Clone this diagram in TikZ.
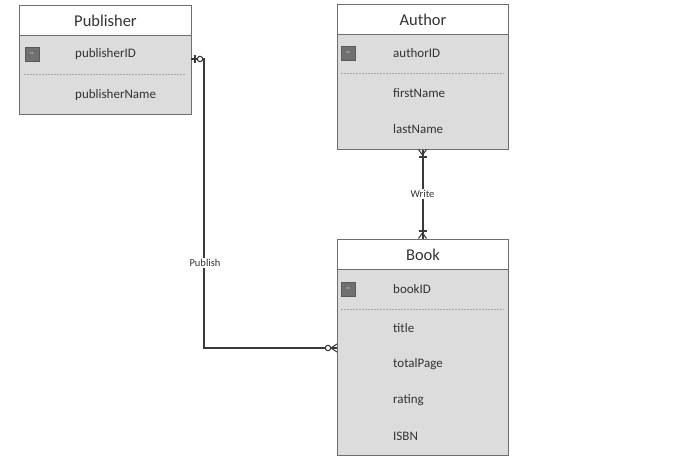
\documentclass[tikz,border=0pt]{standalone}
\usepackage{fontspec}
\setmainfont{Carlito}
\definecolor{bodyfill}{HTML}{DCDCDC}
\definecolor{edge}{HTML}{6E6E6E}
\definecolor{txt}{HTML}{333333}
\definecolor{pkfill}{HTML}{707070}
\definecolor{conn}{HTML}{3A3A3A}
\begin{document}
\begin{tikzpicture}[x=1pt,y=-1pt,
  entbody/.style={draw=edge,line width=1pt,fill=bodyfill,rectangle,anchor=north west,inner sep=0pt},
  enthead/.style={draw=edge,line width=1pt,fill=white,rectangle,anchor=north west,inner sep=0pt,minimum height=30pt,font=\fontsize{16.5}{18}\selectfont,text=txt},
  attr/.style={anchor=west,inner sep=0pt,font=\fontsize{13}{15}\selectfont,text=txt},
  pk/.style={draw=pkfill!80!black,fill=pkfill,rectangle,minimum size=14pt,inner sep=0pt,font=\fontsize{3}{3}\selectfont,text=white!80!gray},
  divider/.style={draw=gray!70,line width=0.7pt,dash pattern=on 2pt off 1pt},
  conline/.style={draw=conn,line width=1.1pt},
  rel/.style={fill=white,inner sep=1pt,font=\fontsize{10.5}{12}\selectfont,text=txt}
]
\useasboundingbox (0,0) rectangle (700,460);
\fill[white] (0,0) rectangle (700,460);

% Publisher
\node[entbody,minimum width=172pt,minimum height=109pt] (pub) at (19,5) {};
\node[enthead,minimum width=172pt] (pubh) at (19,5) {Publisher};
\node[pk] (pubpk) at (32,54) {PK};
\node[attr] (pubid) at (75,54) {publisherID};
\draw[divider] (24,74) -- (186,74);
\node[attr] (pubname) at (75,95) {publisherName};

% Author
\node[entbody,minimum width=171pt,minimum height=145pt] (auth) at (337,4) {};
\node[enthead,minimum width=171pt] (authh) at (337,4) {Author};
\node[pk] (authpk) at (348,53) {PK};
\node[attr] (authid) at (393,53) {authorID};
\draw[divider] (341,73) -- (504,73);
\node[attr] (fname) at (393,93) {firstName};
\node[attr] (lname) at (393,129) {lastName};

% Book
\node[entbody,minimum width=171pt,minimum height=216pt] (book) at (337,239) {};
\node[enthead,minimum width=171pt] (bookh) at (337,239) {Book};
\node[pk] (bookpk) at (348,289) {PK};
\node[attr] (bookid) at (393,289) {bookID};
\draw[divider] (341,309) -- (504,309);
\node[attr] (title) at (393,328) {title};
\node[attr] (tpage) at (393,364) {totalPage};
\node[attr] (rating) at (393,400) {rating};
\node[attr] (isbn) at (393,436) {ISBN};

% Publish connector
\coordinate (pubc) at (191,59);
\coordinate (bookc) at (337,348);
\coordinate (bend) at (204,59);
\draw[conline] (pubc) -- (bend) |- (bookc);
\node[rel] (publbl) at (205,263) {Publish};
% one-and-only-zero at publisher end
\draw[conline] (195,55) -- (195,63);
\draw[conline,fill=white] (200,59) circle (2.7pt);
% zero-or-many at book end
\draw[conline,fill=white] (328,348) circle (2.7pt);
\draw[conline] (331,348) -- (337,344);
\draw[conline] (331,348) -- (337,352);

% Write connector
\draw[conline] (auth.south) -- (book.north);
\node[rel] (writelbl) at (422.5,194) {Write};
% one-or-many at author end
\draw[conline] (422.5,155) -- (418.5,149.5);
\draw[conline] (422.5,155) -- (426.5,149.5);
\draw[conline] (418.5,157) -- (426.5,157);
% one-or-many at book end
\draw[conline] (422.5,233) -- (418.5,238.5);
\draw[conline] (422.5,233) -- (426.5,238.5);
\draw[conline] (418.5,231) -- (426.5,231);
\end{tikzpicture}
\end{document}
